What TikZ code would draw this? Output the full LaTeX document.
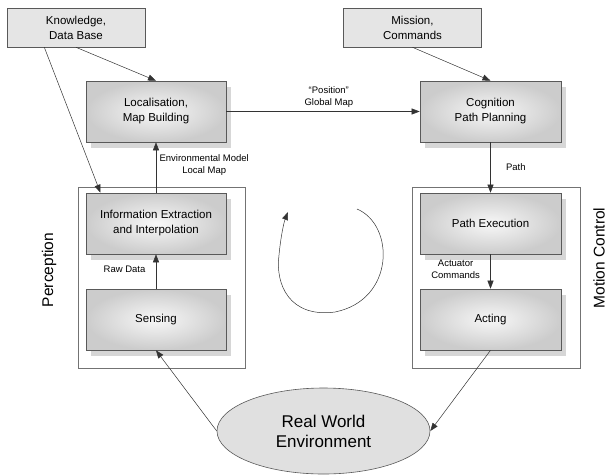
\documentclass[tikz,border=0pt]{standalone}
\usepackage{fontspec}
\setmainfont{Liberation Sans}
\usetikzlibrary{shapes.geometric, positioning, shadows, arrows.meta}

\tikzset{
  block/.style={rectangle, draw=black!65, line width=0.6pt,
    inner color=black!3, outer color=black!20,
    drop shadow={shadow xshift=5pt, shadow yshift=-6pt, fill=black!35, opacity=0.45},
    minimum width=140pt, minimum height=61pt, align=center,
    font=\fontsize{11.5}{15}\selectfont},
  inbox/.style={rectangle, draw=black!65, line width=0.6pt, fill=black!10,
    minimum width=138pt, minimum height=39pt, align=center,
    font=\fontsize{11.5}{15}\selectfont},
  frame/.style={rectangle, draw=black!55, line width=0.6pt, fill=white},
  world/.style={ellipse, draw=black!65, line width=0.6pt, fill=black!12,
    minimum width=213pt, minimum height=86pt, align=center,
    font=\fontsize{17}{20}\selectfont},
  lbl/.style={align=center, font=\fontsize{9.5}{12}\selectfont},
  side/.style={rotate=90, font=\fontsize{15.5}{18}\selectfont}
}

\begin{document}
\begin{tikzpicture}[x=1pt, y=-1pt, >={Triangle[length=8pt,width=6pt]},
    line width=0.5pt, draw=black!80]
      \useasboundingbox (0,0) rectangle (607,474);
      % the two frames
      \node[frame, minimum width=167pt, minimum height=181pt] (percframe) at (161.5,277.5) {};
      \node[frame, minimum width=168pt, minimum height=181pt] (motframe) at (496,277.5) {};
      \node[side] (perc) at (49,270) {Perception};
      \node[side] (mot) at (599,258) {Motion Control};
      % inputs
      \node[inbox] (know) at (76,27.5) {Knowledge,\\Data Base};
      \node[inbox] (mission) at (412.5,27.5) {Mission,\\Commands};
      % blocks
      \node[block] (loc) at (156,111.5) {Localisation,\\Map Building};
      \node[block, minimum width=141pt] (cog) at (490.5,111.5) {Cognition\\Path Planning};
      \node[block] (info) at (156,223.5) {Information Extraction\\and Interpolation};
      \node[block] (sens) at (156,319.5) {Sensing};
      \node[block, minimum width=141pt] (pexec) at (490.5,223.5) {Path Execution};
      \node[block, minimum width=141pt] (act) at (490.5,319.5) {Acting};
      \node[world] (env) at (323.5,431) {Real World\\Environment};
      % connectors
      \draw[->] (know.south) -- (loc.north);
      \draw[->] (know.212) -- (info.151);
      \draw[->] (mission.south) -- (cog.north);
      \draw[->] (loc) -- node[lbl, above, pos=0.53] {``Position''\\Global Map} (cog);
      \draw[->] (info) -- node[lbl, right, yshift=2pt] {Environmental Model\\Local Map} (loc);
      \draw[->] (sens) -- node[lbl, left, xshift=-7pt, yshift=2pt] {Raw Data} (info);
      \draw[->] (cog) -- node[lbl, right, xshift=12pt] {Path} (pexec);
      \draw[->] (pexec) -- node[lbl, left, xshift=-7pt, yshift=2pt] {Actuator\\Commands} (act);
      \draw[->] (env.west) -- (sens.south);
      \draw[->] (act.south) -- (env.east);
      % loop
      \draw[->] (357,209) .. controls (395,225) and (395,300) .. (335,312)
        .. controls (290,318) and (275,285) .. (279,255)
        .. controls (281,235) and (284,222) .. (288,212);
    \end{tikzpicture}
\end{document}
